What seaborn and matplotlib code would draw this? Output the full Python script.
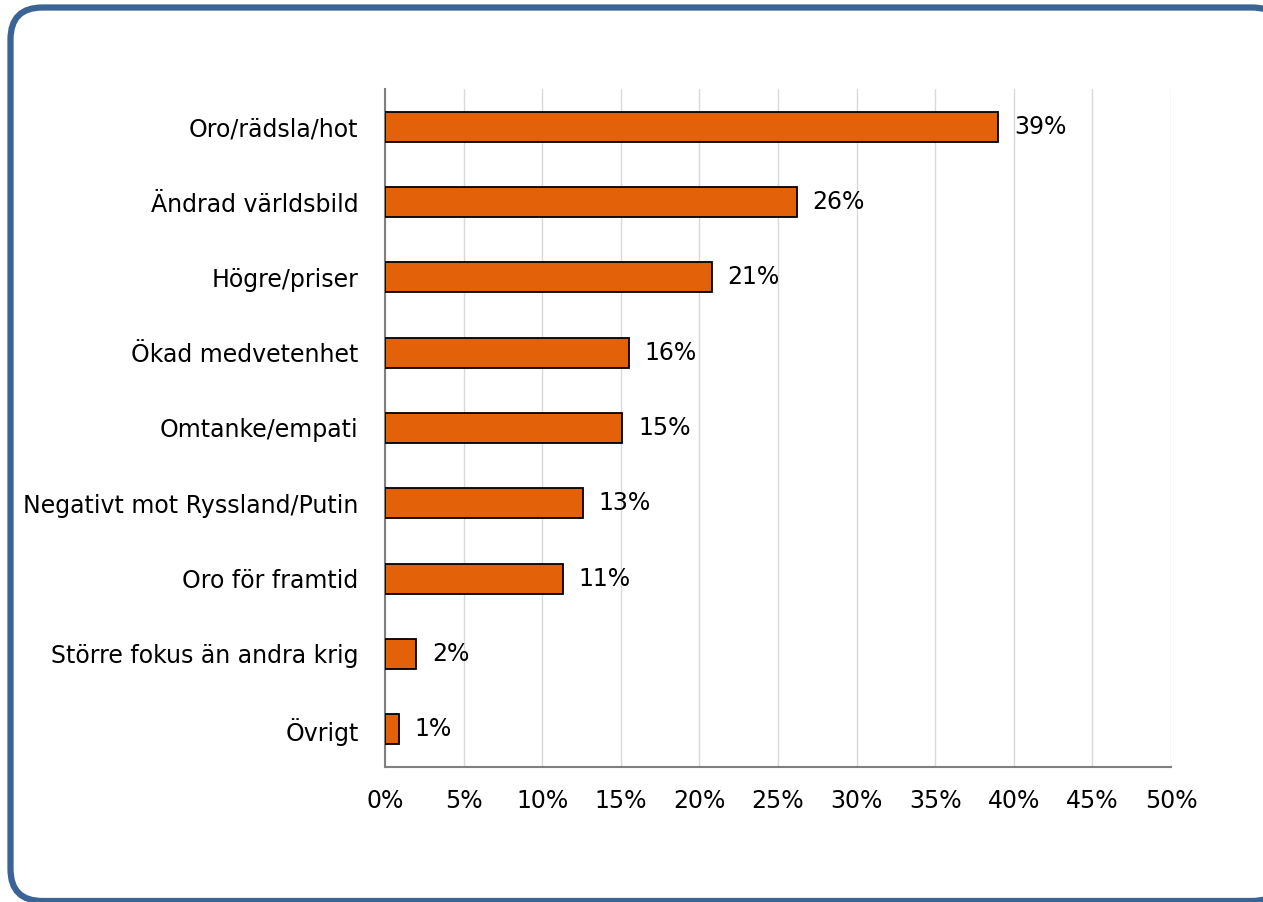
import matplotlib
matplotlib.use("Agg")
import matplotlib.pyplot as plt
from matplotlib.patches import FancyBboxPatch
import pandas as pd
import seaborn as sns

categories = ["Oro/rädsla/hot", "Ändrad världsbild", "Högre/priser", "Ökad medvetenhet",
              "Omtanke/empati", "Negativt mot Ryssland/Putin", "Oro för framtid",
              "Större fokus än andra krig", "Övrigt"]
values = [39.0, 26.2, 20.8, 15.5, 15.1, 12.6, 11.3, 2.0, 0.9]
labels = ["39%", "26%", "21%", "16%", "15%", "13%", "11%", "2%", "1%"]
xticks = [0, 5, 10, 15, 20, 25, 30, 35, 40, 45, 50]

BAR = "#E36209"
FRAME = "#3A6496"
FS = 17

sns.set_style("white")
plt.rcParams["font.family"] = ["DejaVu Sans"]

fig = plt.figure(figsize=(12.63, 9.02), dpi=100)

ax = fig.add_axes([385 / 1263, 1 - 767 / 902, 786 / 1263, 678 / 902])
ax.set_facecolor("none")

df = pd.DataFrame({"cat": categories, "val": values})
sns.barplot(data=df, x="val", y="cat", orient="h", color=BAR, saturation=1,
            width=0.4, edgecolor="black", linewidth=1.3, ax=ax, zorder=3)

for i, (v, t) in enumerate(zip(values, labels)):
    ax.text(v + 1.0, i, t, va="center", ha="left", fontsize=FS, color="black")

ax.set_xlim(0, 50)
ax.set_ylim(8.5, -0.5)
ax.set_xticks(xticks)
ax.set_xticklabels([f"{x}%" for x in xticks], fontsize=FS)
ax.tick_params(axis="y", labelsize=FS, length=0, pad=19, labelcolor="black")
ax.tick_params(axis="x", length=0, pad=16, labelcolor="black")
ax.grid(axis="x", color="#D9D9D9", linewidth=1, zorder=0)
ax.set_axisbelow(True)
ax.set_xlabel("")
ax.set_ylabel("")
for s in ["top", "right"]:
    ax.spines[s].set_visible(False)
for s in ["left", "bottom"]:
    ax.spines[s].set_color("#808080")
    ax.spines[s].set_linewidth(1.5)

# rounded outer frame (pixel positions converted to inches), runs off right and bottom edge
# filled white and put behind the axes so Agg does not clip the curved path
x0, x1 = 10.5, 1284.0
top, bot = 7.5, 901.0
frame = FancyBboxPatch((x0 / 100, (902 - bot) / 100), (x1 - x0) / 100, (bot - top) / 100,
                       boxstyle="round,pad=0,rounding_size=0.32",
                       transform=fig.dpi_scale_trans, facecolor="white", edgecolor=FRAME,
                       linewidth=4.5, zorder=-1)
fig.patches.append(frame)

fig.savefig("out.png", dpi=100)
